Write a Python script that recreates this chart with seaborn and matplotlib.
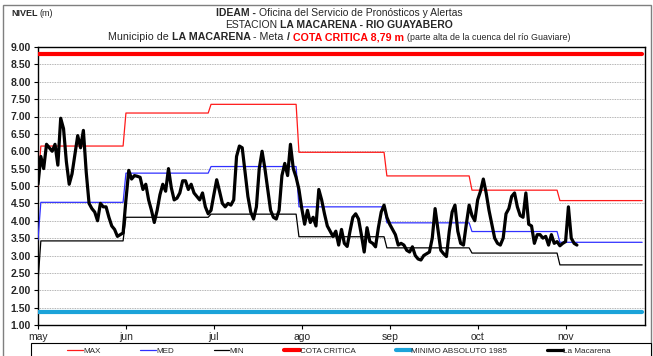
import numpy as np
import pandas as pd
import matplotlib
matplotlib.use("Agg")
import matplotlib.pyplot as plt
import seaborn as sns
from matplotlib.patches import Rectangle
from matplotlib import font_manager

# ---------------------------------------------------------------- data
month_labels = ["may", "jun", "jul", "ago", "sep", "oct", "nov"]
month_lengths = [31, 30, 31, 31, 30, 31, 30]          # May .. Nov

# monthly reference levels (m)
max_monthly = [6.15, 7.10, 7.35, 5.97, 5.29, 4.88, 4.58]
med_monthly = [4.53, 5.37, 5.56, 4.40, 3.94, 3.69, 3.38]
min_monthly = [3.42, 4.10, 4.19, 3.54, 3.22, 3.07, 2.73]
# value of each reference curve on 1 May
max_first_day = 5.00
med_first_day = 3.45
min_first_day = 2.25

cota_critica = 8.79
minimo_absoluto_1985 = 1.37

# daily level, station La Macarena (1 May .. 8 Nov)
la_macarena = [
    # may
    5.05, 5.85, 5.50, 6.20, 6.10, 6.00, 6.20, 5.60, 6.95, 6.65,
    5.70, 5.05, 5.35, 5.90, 6.45, 6.10, 6.60, 5.40, 4.50, 4.35,
    4.25, 4.00, 4.50, 4.40, 4.40, 4.10, 3.85, 3.75, 3.55, 3.60,
    3.65,
    # jun
    4.60, 5.45, 5.20, 5.30, 5.28, 5.25, 4.90, 5.05, 4.60, 4.30,
    3.95, 4.30, 4.75, 5.05, 4.85, 5.50, 4.95, 4.60, 4.65, 4.80,
    5.15, 5.15, 4.90, 5.05, 4.80, 4.70, 4.60, 4.80, 4.40, 4.20,
    # jul
    4.30, 4.75, 5.18, 4.85, 4.50, 4.40, 4.50, 4.45, 4.60, 5.85,
    6.15, 6.10, 5.40, 4.70, 4.25, 4.05, 4.40, 5.50, 6.00, 5.50,
    4.90, 4.30, 4.10, 4.05, 4.30, 5.30, 5.65, 5.30, 6.20, 5.50,
    5.25,
    # ago
    4.90, 4.35, 3.90, 4.30, 3.95, 4.10, 3.85, 4.90, 4.60, 4.20,
    3.85, 3.70, 3.55, 3.70, 3.30, 3.75, 3.35, 3.26, 3.70, 4.10,
    4.20, 4.05, 3.60, 3.10, 3.80, 3.40, 3.35, 3.25, 3.80, 4.25,
    4.45,
    # sep
    4.10, 3.90, 3.75, 3.60, 3.30, 3.35, 3.30, 3.15, 3.10, 3.25,
    3.00, 2.90, 2.87, 3.00, 3.05, 3.10, 3.50, 4.35, 3.75, 3.15,
    3.05, 2.97, 3.70, 4.25, 4.45, 3.70, 3.35, 3.30, 3.90, 4.45,
    # oct
    4.15, 4.00, 4.60, 4.85, 5.20, 4.80, 4.30, 3.90, 3.50, 3.35,
    3.30, 3.50, 4.20, 4.35, 4.70, 4.80, 4.40, 4.15, 4.10, 4.80,
    3.90, 3.85, 3.35, 3.60, 3.60, 3.50, 3.55, 3.30, 3.60, 3.35,
    3.40,
    # nov
    3.28, 3.35, 3.40, 4.40, 3.50, 3.35, 3.30,
]

y_ticks = np.arange(1.0, 9.01, 0.5)

# ---------------------------------------------------------------- tables
n_days = sum(month_lengths)
day = np.arange(n_days)


def monthly_to_daily(values, first):
    daily = np.repeat(values, month_lengths).astype(float)
    daily[0] = first
    return daily


ref = pd.DataFrame({
    "dia": day,
    "MAX": monthly_to_daily(max_monthly, max_first_day),
    "MED": monthly_to_daily(med_monthly, med_first_day),
    "MIN": monthly_to_daily(min_monthly, min_first_day),
    "COTA CRITICA": np.full(n_days, cota_critica),
    "MINIMO ABSOLUTO 1985": np.full(n_days, minimo_absoluto_1985),
})
obs = pd.DataFrame({"dia": np.arange(len(la_macarena)),
                    "La Macarena": la_macarena})

# ---------------------------------------------------------------- style
sns.set_style("white")
available = {f.name for f in font_manager.fontManager.ttflist}
family = [f for f in ["Liberation Sans Narrow", "Liberation Sans", "DejaVu Sans"]
          if f in available]
plt.rcParams["font.family"] = family

fig = plt.figure(figsize=(6.53, 3.56), dpi=100)
fig.patch.set_facecolor("white")
ax = fig.add_axes([38 / 653, 1 - 325 / 356, (645 - 38) / 653, (325 - 47) / 356])

styles = [
    ("MAX", "#ff1a1a", 0.9),
    ("MED", "#3030ff", 0.9),
    ("MIN", "#000000", 0.9),
    ("COTA CRITICA", "#ff0000", 3.0),
    ("MINIMO ABSOLUTO 1985", "#1ba3d9", 3.0),
]
for name, color, lw in styles:
    sns.lineplot(data=ref, x="dia", y=name, ax=ax, color=color, lw=lw,
                 label=name, zorder=3)
sns.lineplot(data=obs, x="dia", y="La Macarena", ax=ax, color="black",
             lw=2.3, label="La Macarena", zorder=4)

ax.set_xlim(0, n_days)
ax.set_ylim(1.0, 9.0)
ax.set_xlabel("")
ax.set_ylabel("")

tick_days = np.arange(len(month_labels)) * 31
ax.set_xticks(tick_days)
ax.set_xticklabels(month_labels, fontsize=7.5)
ax.set_yticks(y_ticks)
ax.set_yticklabels([f"{v:.2f}" for v in y_ticks], fontsize=7.5,
                   fontweight="bold")
ax.tick_params(axis="both", direction="out", length=3, width=0.8,
               color="black", pad=2, left=True, bottom=True)
for y in y_ticks[1:-1]:
    ax.axhline(y, color="#9a9a9a", lw=0.6, ls=(0, (1, 1)), zorder=1)
for s in ax.spines.values():
    s.set_color("black")
    s.set_linewidth(1.0)

# legend in a separate box along the bottom edge
handles, labels = ax.get_legend_handles_labels()
ax.legend_.remove()
fig.patches.append(Rectangle((31 / 653, -0.05), (651 - 31) / 653,
                             (1 - 343 / 356) + 0.05,
                             transform=fig.transFigure, facecolor="white",
                             edgecolor="black", lw=0.8))
fig.legend(handles, labels, loc="center", ncol=6,
           bbox_to_anchor=(339 / 653, 1 - 351 / 356), frameon=False,
           fontsize=5.9, handlelength=1.9, handletextpad=0.0,
           columnspacing=4.9, borderpad=0.1)

# outer frame
fig.patches.append(Rectangle((3 / 653, -0.05), (651 - 3) / 653,
                             (1 - 5 / 356) + 0.05,
                             transform=fig.transFigure, facecolor="none",
                             edgecolor="#7f7f7f", lw=1.0, zorder=-1))

# ---------------------------------------------------------------- header
renderer = fig.canvas.get_renderer()


def rich_line(x_px, y_px, pieces, align="center", size=7.5):
    """Draw pieces of text with different styles along one baseline."""
    texts = []
    for s, kw in pieces:
        props = dict(fontsize=size, va="baseline", ha="left")
        props.update(kw)
        texts.append(fig.text(0, 1 - y_px / 356, s, **props))
    probe_a = fig.text(0, 0, "a a", fontsize=size)
    probe_b = fig.text(0, 0, "aa", fontsize=size)
    space = (probe_a.get_window_extent(renderer).width
             - probe_b.get_window_extent(renderer).width)
    probe_a.remove()
    probe_b.remove()
    widths = [t.get_window_extent(renderer).width for t in texts]
    total = sum(widths) + space * (len(texts) - 1)
    x = x_px - total / 2 if align == "center" else x_px
    for t, w in zip(texts, widths):
        t.set_x(x / 653)
        x += w + space


bold = dict(fontweight="bold")
rich_line(11, 16, [("NIVEL", bold), ("(m)", {})], align="left", size=6.5)
rich_line(339, 16, [("IDEAM -", bold),
                    ("Oficina del Servicio de Pronósticos y Alertas", {})])
rich_line(339, 28, [("ESTACION", {}),
                    ("LA MACARENA - RIO GUAYABERO", bold)])
rich_line(339, 40, [("Municipio de", {}), ("LA MACARENA", bold),
                    ("- Meta", {}), ("/", bold),
                    ("COTA CRITICA 8,79 m", dict(fontweight="bold",
                                                 color="#ff0000")),
                    ("(parte alta de la cuenca del río Guaviare)",
                     dict(fontsize=6.4))], size=7.7)

fig.savefig("out.png", dpi=100, facecolor="white")
